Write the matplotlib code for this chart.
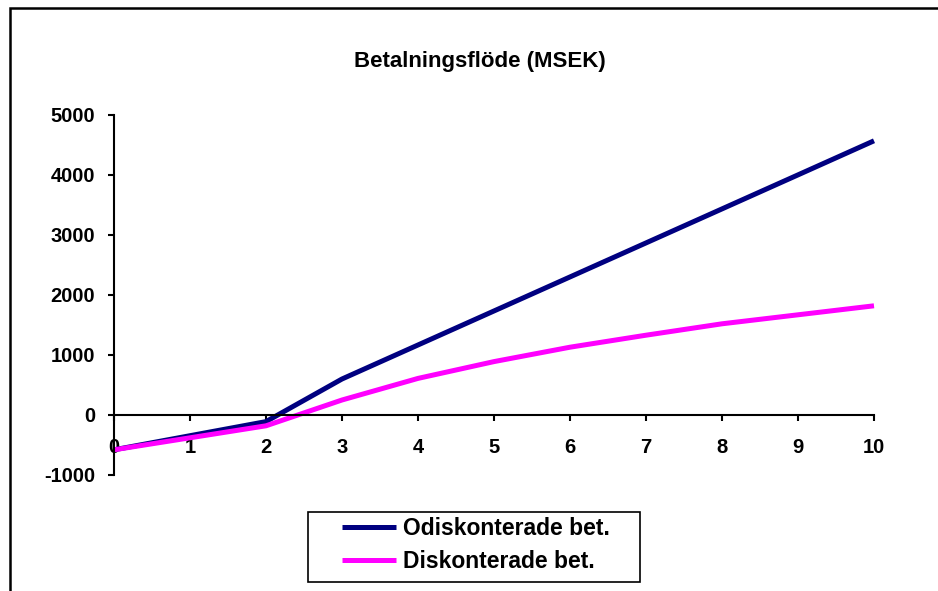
import matplotlib
matplotlib.use("Agg")
import matplotlib.pyplot as plt
from matplotlib.patches import Rectangle

years = list(range(11))
undiscounted = [-580, -345, -110, 600, 1167, 1734, 2301, 2868, 3435, 4002, 4570]
discounted = [-580, -380, -180, 250, 610, 890, 1130, 1330, 1520, 1670, 1820]
y_ticks = [-1000, 0, 1000, 2000, 3000, 4000, 5000]
series_labels = ["Odiskonterade bet.", "Diskonterade bet."]
title = "Betalningsflöde (MSEK)"

plt.rcParams["font.family"] = ["Liberation Sans", "DejaVu Sans"]
plt.rcParams["font.weight"] = "bold"
plt.rcParams["axes.unicode_minus"] = False

W, H = 938, 591
fig = plt.figure(figsize=(W / 100, H / 100), dpi=100)
ax = fig.add_axes([114 / W, 1 - 475 / H, 760 / W, 360 / H])

ax.plot(years, undiscounted, color="#000080", lw=3.6,
        solid_capstyle="butt", label=series_labels[0], clip_on=False)
ax.plot(years, discounted, color="#FF00FF", lw=3.6,
        solid_capstyle="butt", label=series_labels[1], clip_on=False)

ax.set_xlim(0, 10)
ax.set_ylim(-1000, 5000)
ax.set_xticks(years)
ax.set_yticks(y_ticks)

# x axis crosses at zero, only the left spine is kept
for side in ("top", "right"):
    ax.spines[side].set_visible(False)
ax.spines["bottom"].set_position(("data", 0))
ax.spines["bottom"].set_linewidth(1.5)
ax.spines["left"].set_linewidth(1.5)
ax.tick_params(axis="both", direction="out", length=4.5, width=1.5,
               labelsize=14.5)
ax.tick_params(axis="x", pad=12)
ax.tick_params(axis="y", pad=9)
for lbl in ax.get_xticklabels() + ax.get_yticklabels():
    lbl.set_fontweight("bold")

fig.text(480 / W, 1 - 62 / H, title, ha="center", va="center",
         fontsize=16, fontweight="bold")

leg = fig.legend(loc="center left", bbox_to_anchor=(342 / W, 1 - 545 / H),
                 frameon=False, fontsize=16.5, handlelength=2.36,
                 handletextpad=0.3, labelspacing=0.4, borderpad=0,
                 borderaxespad=0)
for t in leg.get_texts():
    t.set_fontweight("bold")
for h in leg.legend_handles:
    h.set_linewidth(3.6)

# legend frame and outer chart border
fig.patches.append(Rectangle((308 / W, 1 - 582 / H), 332 / W, 70 / H,
                             transform=fig.transFigure, fill=False,
                             edgecolor="black", lw=1.2))
fig.patches.append(Rectangle((10 / W, -0.2), 1.2, 0.2 + (1 - 8 / H),
                             transform=fig.transFigure, fill=False,
                             edgecolor="black", lw=1.8))

fig.savefig("out.png", dpi=100)
